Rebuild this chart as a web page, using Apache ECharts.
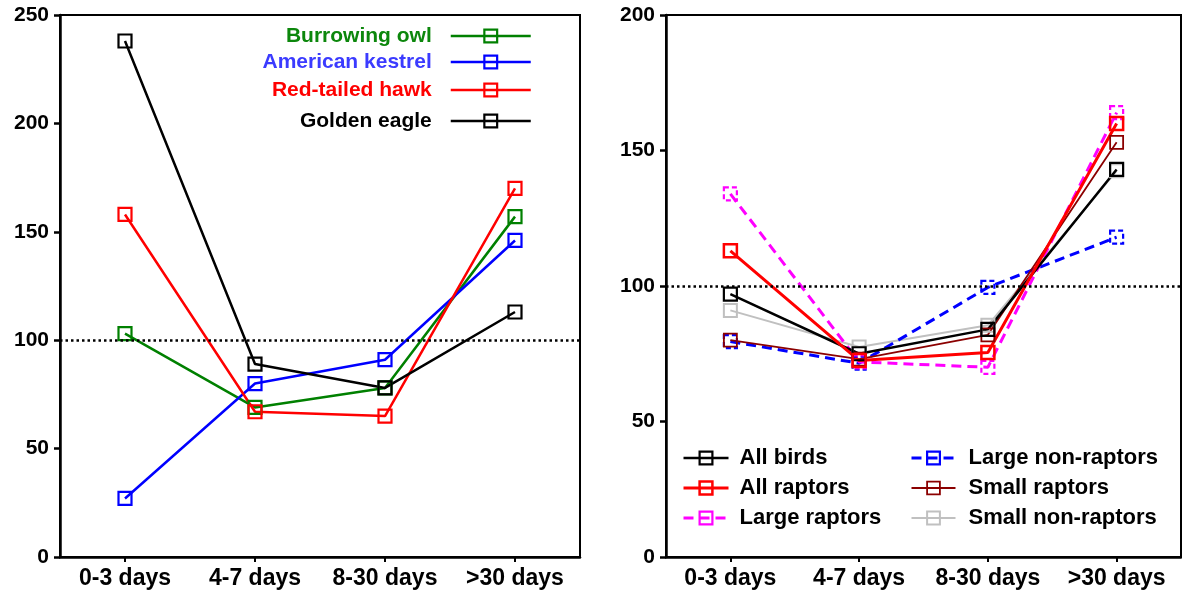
<!DOCTYPE html>
<html>
<head>
<meta charset="utf-8">
<script src="https://cdn.jsdelivr.net/npm/echarts@6/dist/echarts.min.js"></script>
<style>
html,body{margin:0;padding:0;background:#fff;}
#c{width:1182px;height:596px;}
</style>
</head>
<body>
<div id="c"></div>
<script>
// ---- Data ----
const categories = ['0-3 days', '4-7 days', '8-30 days', '>30 days'];
const leftTicks = [0, 50, 100, 150, 200, 250];
const rightTicks = [0, 50, 100, 150, 200];
const referenceValue = 100;

// Left panel
const burrowingOwl = [103, 69, 78, 157];
const americanKestrel = [27, 80, 91, 146];
const redTailedHawk = [158, 67, 65, 170];
const goldenEagle = [238, 89, 78, 113];

// Right panel
const allBirds = [97, 75, 84, 143];
const allRaptors = [113, 72.5, 75.5, 160];
const largeRaptors = [134, 72, 70, 164];
const largeNonRaptors = [79.5, 71.5, 99.5, 118];
const smallRaptors = [80, 73, 82, 153];
const smallNonRaptors = [91, 77.5, 85.5, 142.5];

const FONT = '"Liberation Sans", Arial, sans-serif';
const chart = echarts.init(document.getElementById('c'), null, {renderer: 'canvas'});

function mkSeries(name, data, color, opts) {
  opts = opts || {};
  const dashed = !!opts.dashed;
  const s = {
    name: name,
    type: 'line',
    data: data,
    xAxisIndex: opts.panel,
    yAxisIndex: opts.panel,
    symbol: 'rect',
    symbolSize: opts.symbolSize || 13,
    color: color,
    z: opts.z || 2,
    lineStyle: {color: color, width: opts.width || 2.5, type: dashed ? [10, 6] : 'solid'},
    itemStyle: {color: 'rgba(0,0,0,0)', borderColor: color, borderWidth: opts.bw || 2.2, borderType: dashed ? [5, 3] : 'solid'},
    emphasis: {disabled: true},
    animation: false
  };
  if (opts.ref) {
    s.markLine = {
      silent: true,
      symbol: ['none', 'none'],
      label: {show: false},
      lineStyle: {color: '#000', type: [2.5, 3], width: 2.5},
      data: [{yAxis: referenceValue}],
      animation: false
    };
  }
  return s;
}

function yAxis(gi, max) {
  return {
    type: 'value', gridIndex: gi, min: 0, max: max, interval: 50,
    axisLine: {show: true, lineStyle: {color: '#000', width: 2.5}},
    axisTick: {show: true, length: 6, lineStyle: {color: '#000', width: 2.5}},
    axisLabel: {color: '#000', fontFamily: FONT, fontWeight: 'bold', fontSize: 21, margin: 11},
    splitLine: {show: false}
  };
}
function xAxis(gi) {
  return {
    type: 'category', gridIndex: gi, data: categories, boundaryGap: true,
    axisLine: {show: true, onZero: false, lineStyle: {color: '#000', width: 2.5}},
    axisTick: {show: true, alignWithLabel: true, length: 5, lineStyle: {color: '#000', width: 2}},
    axisLabel: {color: '#000', fontFamily: FONT, fontWeight: 'bold', fontSize: 23, margin: 10, interval: 0}
  };
}

function leftLegend(name, color, top) {
  return {
    data: [{name: name, textStyle: {color: color}}],
    orient: 'vertical', align: 'right',
    right: 650, top: top, padding: 0,
    itemWidth: 80, itemHeight: 16,
    selectedMode: false,
    lineStyle: {width: 'inherit'},
    itemStyle: {borderWidth: 'inherit'},
    textStyle: {fontFamily: FONT, fontWeight: 'bold', fontSize: 21, lineHeight: 24, padding: [0, 14, 0, 0]}
  };
}
function rightLegend(names, left, itemWidth, pad) {
  return {
    data: names,
    orient: 'vertical', align: 'left',
    left: left, top: 446, padding: 0, itemGap: 6,
    itemWidth: itemWidth, itemHeight: 16,
    selectedMode: false,
    lineStyle: {width: 'inherit'},
    itemStyle: {borderWidth: 'inherit'},
    textStyle: {color: '#000', fontFamily: FONT, fontWeight: 'bold', fontSize: 22, lineHeight: 24, padding: [0, 0, 0, pad]}
  };
}

const option = {
  backgroundColor: '#fff',
  animation: false,
  grid: [
    {left: 60, top: 15, width: 520, height: 542, show: true, borderColor: '#000', borderWidth: 2, backgroundColor: 'transparent'},
    {left: 666, top: 15, width: 515, height: 542, show: true, borderColor: '#000', borderWidth: 2, backgroundColor: 'transparent'}
  ],
  xAxis: [xAxis(0), xAxis(1)],
  yAxis: [yAxis(0, 250), yAxis(1, 200)],
  legend: [
    leftLegend('Burrowing owl', '#0c870c', 24),
    leftLegend('American kestrel', '#3b3bff', 50),
    leftLegend('Red-tailed hawk', '#ff0000', 78),
    leftLegend('Golden eagle', '#000000', 109),
    rightLegend(['All birds', 'All raptors', 'Large raptors'], 682, 45, 6),
    rightLegend(['Large non-raptors', 'Small raptors', 'Small non-raptors'], 910, 44, 8)
  ],
  series: [
    mkSeries('Burrowing owl', burrowingOwl, '#008000', {panel: 0, ref: true}),
    mkSeries('American kestrel', americanKestrel, '#0000ff', {panel: 0}),
    mkSeries('Red-tailed hawk', redTailedHawk, '#ff0000', {panel: 0}),
    mkSeries('Golden eagle', goldenEagle, '#000000', {panel: 0}),

    mkSeries('Small non-raptors', smallNonRaptors, '#c0c0c0', {panel: 1, width: 2, bw: 2, ref: true}),
    mkSeries('Large non-raptors', largeNonRaptors, '#0000ff', {panel: 1, width: 3, dashed: true}),
    mkSeries('Large raptors', largeRaptors, '#ff00ff', {panel: 1, width: 3, dashed: true}),
    mkSeries('Small raptors', smallRaptors, '#8b0000', {panel: 1, width: 1.8, bw: 1.8}),
    mkSeries('All birds', allBirds, '#000000', {panel: 1, width: 2.5}),
    mkSeries('All raptors', allRaptors, '#ff0000', {panel: 1, width: 3, bw: 2.5})
  ]
};
chart.setOption(option);
</script>
</body>
</html>
